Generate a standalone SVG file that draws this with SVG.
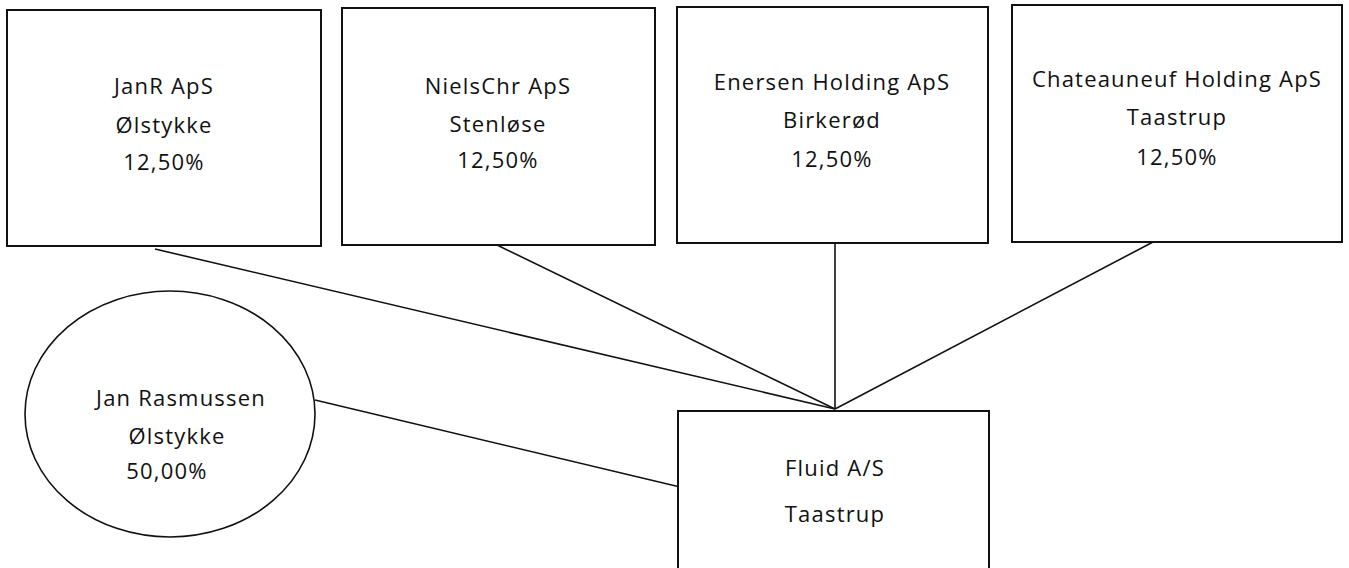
<svg xmlns="http://www.w3.org/2000/svg" width="1349" height="568" viewBox="0 0 1349 568">
<style>
.box{fill:#fff;stroke:#111;stroke-width:2}
.ell{fill:#fff;stroke:#111;stroke-width:1.6}
.ln{stroke:#111;stroke-width:1.6;fill:none}
text{font-family:"Open Sans","Liberation Sans",sans-serif;font-size:22px;letter-spacing:1.2px;fill:#111;text-anchor:middle}
</style>
<rect width="1349" height="568" fill="#fff"/>
<g id="connectors">
<line class="ln" x1="155" y1="249" x2="835" y2="409"/>
<line class="ln" x1="497" y1="245" x2="835" y2="409"/>
<line class="ln" x1="835" y1="243" x2="835" y2="409"/>
<line class="ln" x1="1153" y1="242" x2="835" y2="409"/>
<line class="ln" x1="315" y1="400" x2="680" y2="487"/>
</g>
<g id="janr">
<rect class="box" x="7" y="10" width="314" height="236"/>
<text x="164" y="94">JanR ApS</text>
<text x="164" y="133">Ølstykke</text>
<text x="164" y="170">12,50%</text>
</g>
<g id="nielschr">
<rect class="box" x="342" y="8" width="313" height="237"/>
<text x="498" y="94">NielsChr ApS</text>
<text x="498" y="132">Stenløse</text>
<text x="498" y="168">12,50%</text>
</g>
<g id="enersen">
<rect class="box" x="677" y="7" width="311" height="236"/>
<text x="832" y="90">Enersen Holding ApS</text>
<text x="832" y="128">Birkerød</text>
<text x="832" y="167">12,50%</text>
</g>
<g id="chateauneuf">
<rect class="box" x="1012" y="5" width="330" height="237"/>
<text x="1177" y="87">Chateauneuf Holding ApS</text>
<text x="1177" y="125">Taastrup</text>
<text x="1177" y="165">12,50%</text>
</g>
<g id="jan">
<ellipse class="ell" cx="170" cy="414" rx="145" ry="123"/>
<text x="181" y="406">Jan Rasmussen</text>
<text x="177" y="444">Ølstykke</text>
<text x="167" y="479">50,00%</text>
</g>
<g id="fluid">
<rect class="box" x="678" y="411" width="311" height="170"/>
<text x="835" y="476">Fluid A/S</text>
<text x="835" y="522">Taastrup</text>
</g>
</svg>
